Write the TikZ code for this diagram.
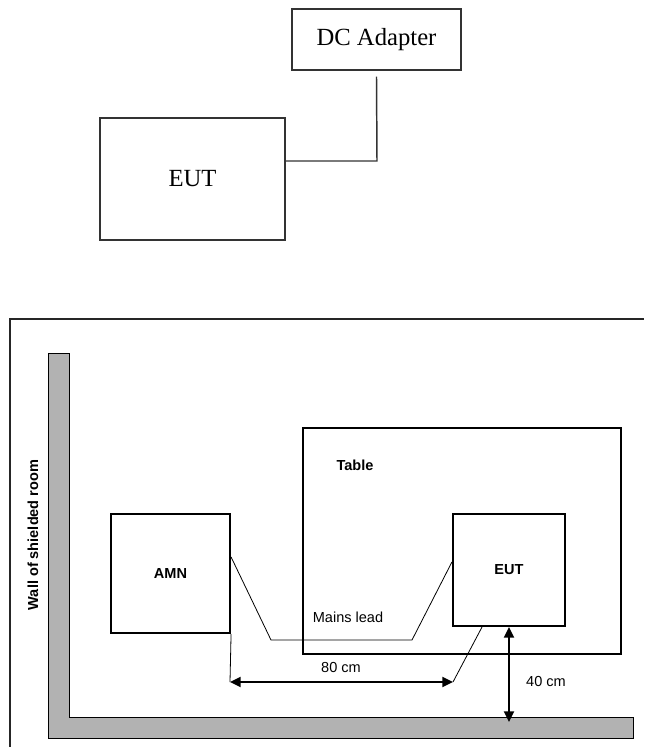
\documentclass[tikz,border=0pt]{standalone}
\usepackage{fontspec}
\setmainfont{Liberation Serif}
\setsansfont{Liberation Sans}
\usetikzlibrary{arrows.meta}
\begin{document}
\begin{tikzpicture}[x=0.75pt,y=-0.75pt,
  topbox/.style={draw=black!80,line width=1.1pt,inner sep=0pt,font=\fontsize{18.5}{20}\selectfont},
  toplink/.style={draw=black!80,line width=1.1pt},
  botbox/.style={draw=black,line width=1.6pt,inner sep=0pt,font=\sffamily\bfseries\fontsize{10.9}{12}\selectfont},
  lbl/.style={inner sep=0pt,font=\sffamily\fontsize{10.9}{12}\selectfont},
  blbl/.style={inner sep=0pt,font=\sffamily\bfseries\fontsize{10.9}{12}\selectfont},
  lead/.style={draw=black,line width=0.6pt},
  dim/.style={draw=black,line width=1.5pt,{Triangle[length=8pt,width=7.5pt]}-{Triangle[length=8pt,width=7.5pt]}},
  wallstyle/.style={fill=black!30,draw=black,line width=0.7pt}]
\useasboundingbox (0,0) rectangle (644,747);
% ---------- top figure ----------
\node[topbox,minimum width=126.75pt,minimum height=45.75pt] (dc) at (376.5,39.5) {DC Adapter};
\node[topbox,minimum width=138.75pt,minimum height=91.5pt] (eutA) at (192.5,179) {EUT};
\coordinate (j1) at (377,161);
\draw[toplink] ([yshift=-4.5pt]dc.south) -- (j1) -- (j1 -| eutA.east);
% ---------- bottom figure ----------
\coordinate (fa) at (10,747);
\coordinate (fb) at (10,319);
\coordinate (fc) at (644,319);
\draw[black!85,line width=0.9pt] (fa) -- (fb) -- (fc);
\draw[wallstyle] (48.5,353) -- (69,353) -- (69,717) -- (633,717) -- (633,738) -- (48.5,738) -- cycle;
\node[blbl,rotate=90] (walltxt) at (33,535) {Wall of shielded room};
\node[botbox,minimum width=238.5pt,minimum height=169.5pt] (table) at (462,541) {};
\node[blbl] (tabletxt) at (355,465) {Table};
\node[botbox,minimum width=89.25pt,minimum height=89.25pt] (amn) at (170.5,573.5) {AMN};
\node[botbox,minimum width=84pt,minimum height=84pt] (eut) at (509,570) {EUT};
\coordinate (m1) at (271,640);
\coordinate (m2) at (412,640);
\draw[lead] ([yshift=12.4pt]amn.east) -- (m1) -- (m2) -- ([yshift=6pt]eut.west);
\node[lbl] (mains) at (348,617) {Mains lead};
\coordinate (d1) at (230,682);
\coordinate (d2) at (453,682);
\draw[lead] (amn.south east) -- (d1);
\draw[lead] ([xshift=-20.25pt]eut.south) -- (d2);
\draw[dim] (d1) -- (d2);
\node[lbl] (l80) at (341,667) {80 cm};
\coordinate (w1) at (509,722);
\draw[dim] (eut.south) -- (w1);
\node[lbl] (l40) at (546,681) {40 cm};
\end{tikzpicture}
\end{document}
